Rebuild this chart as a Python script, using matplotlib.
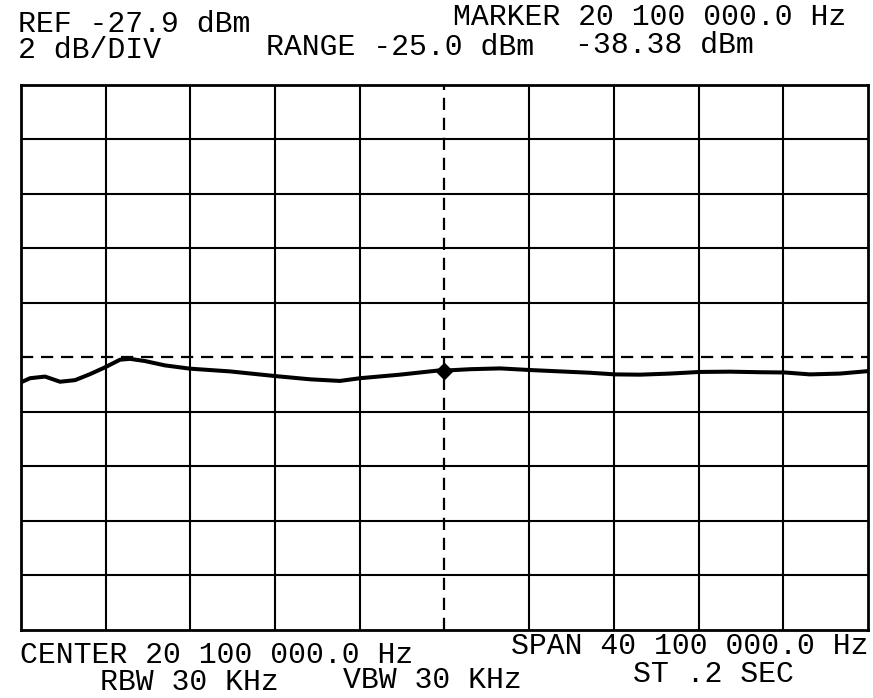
import matplotlib
matplotlib.use("Agg")
import matplotlib.pyplot as plt

# ---- data ----
ref_level = -27.9          # dBm, top of screen
db_per_div = 2.0
center_mhz = 20.1
span_mhz = 40.1
marker_freq = 20.1
marker_level = -38.38

freq_mhz = [0.05, 0.48, 1.19, 1.90, 2.61, 3.32, 4.03, 4.74, 5.21, 5.92, 6.87,
            8.05, 9.94, 12.07, 13.73, 15.15, 16.10, 17.99, 19.89, 20.10,
            21.30, 22.73, 24.15, 25.57, 26.99, 28.17, 29.35, 30.77, 32.19,
            33.61, 35.03, 36.22, 37.40, 38.82, 40.15]
level_dbm = [-38.81, -38.66, -38.60, -38.79, -38.73, -38.51, -38.26, -37.98,
             -37.95, -38.03, -38.19, -38.31, -38.41, -38.58, -38.70, -38.76,
             -38.66, -38.53, -38.37, -38.38, -38.33, -38.30, -38.36, -38.41,
             -38.46, -38.52, -38.53, -38.49, -38.43, -38.42, -38.44, -38.45,
             -38.52, -38.49, -38.40]

header_texts = ["REF -27.9 dBm", "2 dB/DIV", "MARKER 20 100 000.0 Hz",
                "RANGE -25.0 dBm", "-38.38 dBm"]
footer_texts = ["CENTER 20 100 000.0 Hz", "SPAN 40 100 000.0 Hz",
                "RBW 30 KHz", "VBW 30 KHz", "ST .2 SEC"]

W, H = 873, 698
fig = plt.figure(figsize=(W / 100, H / 100), dpi=100)
fig.patch.set_facecolor("white")

ax = fig.add_axes([21 / W, (H - 630) / H, 847 / W, 545 / H])
fmin = center_mhz - span_mhz / 2
fmax = center_mhz + span_mhz / 2
ymin = ref_level - 10 * db_per_div
ax.set_xlim(fmin, fmax)
ax.set_ylim(ymin, ref_level)
ax.set_xticks([])
ax.set_yticks([])
for s in ax.spines.values():
    s.set_linewidth(2.0)
    s.set_color("black")

# graticule
for i in range(1, 10):
    xv = fmin + i * span_mhz / 10
    yv = ymin + i * db_per_div
    if i == 5:
        ax.axvline(xv, color="black", lw=1.6, dashes=(5.5, 3.5))
        ax.axhline(yv, color="black", lw=1.6, dashes=(5.5, 3.5))
    else:
        ax.axvline(xv, color="black", lw=1.5)
        ax.axhline(yv, color="black", lw=1.5)

ax.plot(freq_mhz, level_dbm, color="black", lw=2.9, solid_joinstyle="round")
ax.plot([marker_freq], [marker_level], marker="D", color="black", ms=8)

font = dict(family=["Liberation Mono", "DejaVu Sans Mono"], fontsize=21.5,
            color="black")

def put(txt, x, ybase):
    fig.text(x / W, 1 - ybase / H, txt, ha="left", va="baseline", **font)

put(header_texts[0], 18, 32)
put(header_texts[1], 18, 58)
put(header_texts[2], 453, 25)
put(header_texts[3], 266, 55)
put(header_texts[4], 575, 53)
put(footer_texts[0], 20, 663)
put(footer_texts[1], 511, 654)
put(footer_texts[2], 100, 690)
put(footer_texts[3], 343, 688)
put(footer_texts[4], 633, 682)

fig.savefig("out.png", dpi=100)
